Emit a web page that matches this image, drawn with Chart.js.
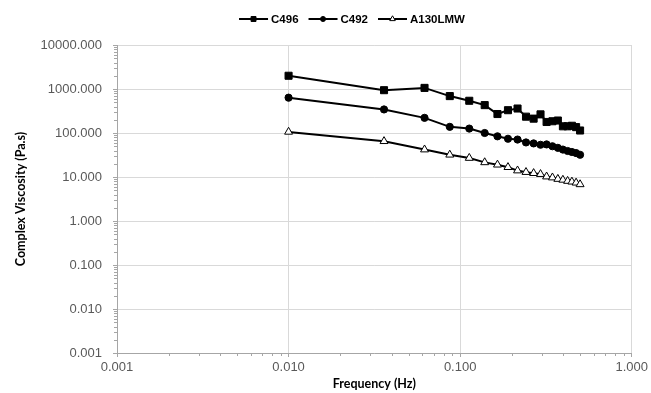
<!DOCTYPE html>
<html>
<head>
<meta charset="utf-8">
<script src="https://cdn.jsdelivr.net/npm/chart.js@4.4.1/dist/chart.umd.min.js"></script>
<style>
  html, body { margin: 0; padding: 0; background: #fff; }
  #wrap { width: 651px; height: 393px; }
</style>
</head>
<body>
<div id="wrap"><canvas id="chart" width="651" height="393"></canvas></div>
<script>
// =============================
// DADOS DO GRÁFICO
// =============================

const freq = [0.010, 0.036, 0.062, 0.087, 0.113, 0.139, 0.165, 0.190, 0.216, 0.242,
              0.268, 0.294, 0.319, 0.345, 0.371, 0.397, 0.423, 0.448, 0.474, 0.500]

const c496 = [2000, 940, 1060, 690, 540, 430, 270, 330, 360, 235,
              212, 265, 178, 185, 192, 142, 142, 146, 136, 114]

const c492 = [636, 343, 221, 138, 126, 100, 84, 74, 71, 61,
              58, 54, 55, 50, 46, 42, 39, 37, 35, 32]

const a130 = [106, 65, 42, 32, 27, 21.5, 19, 16.7, 14, 12.9,
              12.2, 11.6, 10.2, 9.7, 9.0, 8.6, 8.1, 7.8, 7.4, 6.8]

const xTicks = [0.001, 0.01, 0.1, 1]
const yTicks = [0.001, 0.01, 0.1, 1, 10, 100, 1000, 10000]


function pontos(valores){
    return valores.map((v, i) => ({ x: freq[i], y: v }))
}


// =============================
// PLUGINS: MARCAS MENORES E LEGENDA
// =============================

const marcasMenores = {
    id: "marcasMenores",
    afterDraw(chart){
        const ctx = chart.ctx
        const xs = chart.scales.x
        const ys = chart.scales.y
        ctx.save()
        ctx.strokeStyle = "#a6a6a6"
        ctx.lineWidth = 1

        // eixo x
        for(let d = 0; d < xTicks.length - 1; d++){
            for(let k = 2; k <= 9; k++){
                const px = Math.round(xs.getPixelForValue(xTicks[d] * k)) + 0.5
                ctx.beginPath()
                ctx.moveTo(px, ys.bottom)
                ctx.lineTo(px, ys.bottom + 3)
                ctx.stroke()
            }
        }

        // eixo y
        for(let d = 0; d < yTicks.length - 1; d++){
            for(let k = 2; k <= 9; k++){
                const py = Math.round(ys.getPixelForValue(yTicks[d] * k)) + 0.5
                ctx.beginPath()
                ctx.moveTo(xs.left - 3, py)
                ctx.lineTo(xs.left, py)
                ctx.stroke()
            }
        }
        ctx.restore()
    }
}

const legendaExcel = {
    id: "legendaExcel",
    afterDraw(chart){
        const ctx = chart.ctx
        const conjuntos = chart.data.datasets
        const y = 19
        const linha = 29
        const gap = 10

        ctx.save()
        ctx.font = "bold 11.5px 'Liberation Sans', Arial, sans-serif"
        ctx.textBaseline = "middle"

        let total = 0
        conjuntos.forEach(ds => {
            total += linha + 3 + ctx.measureText(ds.label).width
        })
        total += gap * (conjuntos.length - 1)

        let x = 352 - total / 2

        conjuntos.forEach(ds => {
            ctx.strokeStyle = "#000"
            ctx.lineWidth = 2
            ctx.beginPath()
            ctx.moveTo(x, y)
            ctx.lineTo(x + linha, y)
            ctx.stroke()

            // marcador menor na legenda, como no Excel
            ctx.fillStyle = ds.pointBackgroundColor
            ctx.strokeStyle = "#000"
            ctx.lineWidth = 1
            Chart.helpers.drawPoint(ctx, {
                pointStyle: ds.pointStyle,
                radius: ds.pointRadius * 0.7,
                borderWidth: 1,
                rotation: 0
            }, x + linha / 2, y)

            ctx.fillStyle = "#000"
            ctx.textAlign = "left"
            ctx.fillText(ds.label, x + linha + 3, y + 0.5)
            x += linha + 3 + ctx.measureText(ds.label).width + gap
        })
        ctx.restore()
    }
}


// =============================
// CRIAÇÃO DO GRÁFICO
// =============================

function serie(label, valores, estilo, raio, fundo){
    return {
        label: label,
        data: pontos(valores),
        borderColor: "#000",
        borderWidth: 2,
        pointStyle: estilo,
        pointRadius: raio,
        pointBorderWidth: 1,
        pointBorderColor: "#000",
        pointBackgroundColor: fundo,
        tension: 0
    }
}

const fonteTicks = { family: "'Liberation Sans', Arial, sans-serif", size: 13 }
const fonteTitulo = { family: "Lato, 'Open Sans', sans-serif", size: 12.5, weight: "bold" }

new Chart(document.getElementById("chart").getContext("2d"), {

    type: "line",

    data: {
        datasets: [
            serie("C496", c496, "rect", 5, "#000"),
            serie("C492", c492, "circle", 3.6, "#000"),
            serie("A130LMW", a130, "triangle", 4.6, "#fff")
        ]
    },

    options: {
        responsive: false,
        animation: false,
        events: [],
        layout: { padding: { top: 45, right: 18, left: 0, bottom: 0 } },
        plugins: {
            legend: { display: false },
            tooltip: { enabled: false }
        },
        scales: {
            x: {
                type: "logarithmic",
                min: 0.001,
                max: 1,
                afterBuildTicks(scale){
                    scale.ticks = xTicks.map(v => ({ value: v }))
                },
                afterFit(scale){
                    scale.height = 40
                },
                ticks: {
                    autoSkip: false,
                    maxRotation: 0,
                    color: "#595959",
                    font: fonteTicks,
                    padding: 3,
                    callback: v => Number(v).toFixed(3)
                },
                grid: { color: "#d9d9d9", tickColor: "#a6a6a6", tickLength: 4 },
                border: { color: "#a6a6a6" },
                title: {
                    display: true,
                    text: "Frequency (Hz)",
                    color: "#000",
                    font: fonteTitulo,
                    padding: { top: 0, bottom: 2 }
                }
            },
            y: {
                type: "logarithmic",
                min: 0.001,
                max: 10000,
                afterBuildTicks(scale){
                    scale.ticks = yTicks.map(v => ({ value: v }))
                },
                afterFit(scale){
                    scale.width = 117
                },
                ticks: {
                    autoSkip: false,
                    color: "#595959",
                    font: fonteTicks,
                    padding: 11,
                    callback: v => Number(v).toFixed(3)
                },
                grid: { color: "#d9d9d9", tickColor: "#a6a6a6", tickLength: 4 },
                border: { color: "#a6a6a6" },
                title: {
                    display: true,
                    text: "Complex Viscosity (Pa.s)",
                    color: "#000",
                    font: fonteTitulo,
                    padding: { top: 13, bottom: 0 }
                }
            }
        }
    },

    plugins: [marcasMenores, legendaExcel]

})
</script>
</body>
</html>
